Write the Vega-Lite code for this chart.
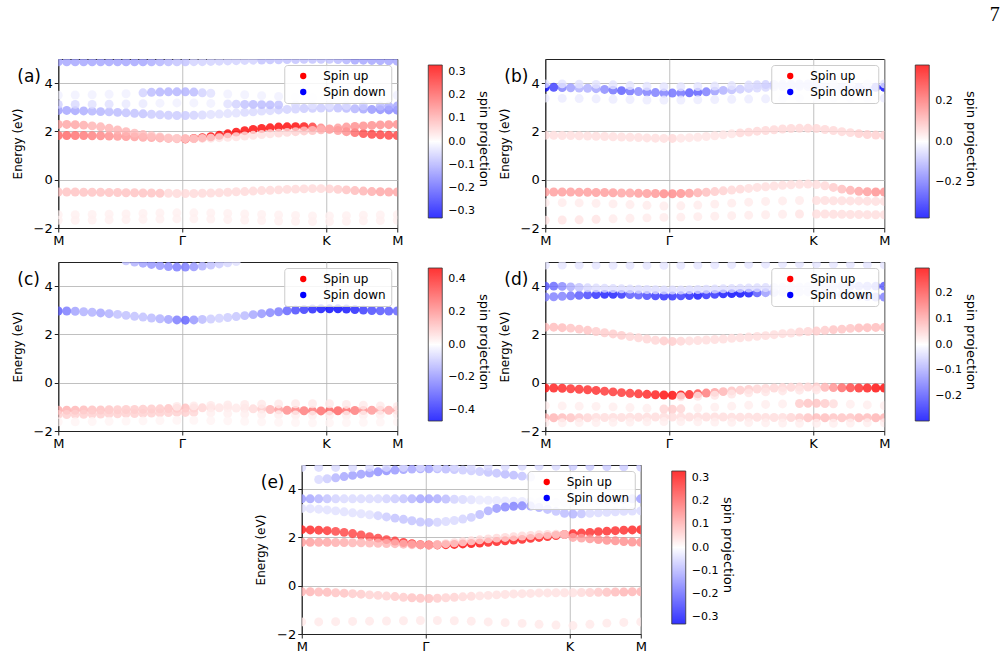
{
"$schema":"https://vega.github.io/schema/vega-lite/v6.json",
"padding":{"left":10,"top":4,"right":0,"bottom":0},
"background":"white",
"title":{"text":"7","anchor":"end","fontSize":20,"font":"Liberation Serif","fontWeight":"normal","offset":34,"dx":16,"color":"black"},
"config":{"font":"DejaVu Sans","view":{"stroke":"#222222","strokeWidth":1},
"axis":{"domainColor":"#222222","tickColor":"#222222","labelColor":"black","titleColor":"black","gridColor":"#b0b0b0","gridWidth":0.8,"labelFontSize":13,"titleFontSize":12,"titleFontWeight":"normal","tickSize":4,"labelPadding":2},
"axisY":{"titlePadding":9},
"legend":{"labelColor":"black","titleColor":"black"}},
"datasets":{
"a":[
{"k":0,"e":1.83,"s":0.2},{"k":2.5,"e":1.83,"s":0.2},{"k":5,"e":1.83,"s":0.19},{"k":7.5,"e":1.83,"s":0.18},{"k":10,"e":1.82,"s":0.17},{"k":12.5,"e":1.82,"s":0.16},{"k":15,"e":1.81,"s":0.15},{"k":17.5,"e":1.8,"s":0.14},{"k":20,"e":1.79,"s":0.14},{"k":22.5,"e":1.78,"s":0.13},{"k":25,"e":1.76,"s":0.12},{"k":27.5,"e":1.75,"s":0.12},{"k":30,"e":1.73,"s":0.12},{"k":32.5,"e":1.71,"s":0.12},{"k":35,"e":1.7,"s":0.14},{"k":37.5,"e":1.69,"s":0.3},{"k":40,"e":1.71,"s":0.33},{"k":42.5,"e":1.74,"s":0.33},{"k":45,"e":1.78,"s":0.33},{"k":47.5,"e":1.84,"s":0.33},{"k":50,"e":1.9,"s":0.33},{"k":52.5,"e":1.97,"s":0.33},{"k":55,"e":2.03,"s":0.33},{"k":57.5,"e":2.08,"s":0.33},{"k":60,"e":2.12,"s":0.33},{"k":62.5,"e":2.15,"s":0.33},{"k":65,"e":2.18,"s":0.33},{"k":67.5,"e":2.19,"s":0.33},{"k":70,"e":2.2,"s":0.33},{"k":72.5,"e":2.2,"s":0.31},{"k":75,"e":2.18,"s":0.26},{"k":77.5,"e":2.14,"s":0.16},{"k":80,"e":2.09,"s":0.12},{"k":82.5,"e":2.04,"s":0.13},{"k":85,"e":1.99,"s":0.15},{"k":87.5,"e":1.95,"s":0.2},{"k":90,"e":1.91,"s":0.24},{"k":92.5,"e":1.88,"s":0.25},{"k":95,"e":1.86,"s":0.25},{"k":97.5,"e":1.84,"s":0.25},{"k":100,"e":1.83,"s":0.25},
{"k":0,"e":2.29,"s":0.12},{"k":2.5,"e":2.29,"s":0.12},{"k":5,"e":2.28,"s":0.12},{"k":7.5,"e":2.26,"s":0.11},{"k":10,"e":2.23,"s":0.1},{"k":12.5,"e":2.19,"s":0.1},{"k":15,"e":2.13,"s":0.1},{"k":17.5,"e":2.06,"s":0.1},{"k":20,"e":1.99,"s":0.1},{"k":22.5,"e":1.93,"s":0.09},{"k":25,"e":1.87,"s":0.09},{"k":27.5,"e":1.82,"s":0.08},{"k":30,"e":1.77,"s":0.08},{"k":32.5,"e":1.73,"s":0.07},{"k":35,"e":1.71,"s":0.06},{"k":37.5,"e":1.7,"s":0.05},{"k":40,"e":1.7,"s":0.04},{"k":42.5,"e":1.71,"s":0.04},{"k":45,"e":1.72,"s":0.04},{"k":47.5,"e":1.74,"s":0.04},{"k":50,"e":1.76,"s":0.04},{"k":52.5,"e":1.78,"s":0.04},{"k":55,"e":1.81,"s":0.04},{"k":57.5,"e":1.84,"s":0.04},{"k":60,"e":1.87,"s":0.04},{"k":62.5,"e":1.9,"s":0.04},{"k":65,"e":1.93,"s":0.05},{"k":67.5,"e":1.96,"s":0.05},{"k":70,"e":1.99,"s":0.06},{"k":72.5,"e":2.02,"s":0.07},{"k":75,"e":2.04,"s":0.08},{"k":77.5,"e":2.07,"s":0.1},{"k":80,"e":2.1,"s":0.12},{"k":82.5,"e":2.14,"s":0.13},{"k":85,"e":2.18,"s":0.14},{"k":87.5,"e":2.21,"s":0.15},{"k":90,"e":2.23,"s":0.15},{"k":92.5,"e":2.25,"s":0.15},{"k":95,"e":2.27,"s":0.15},{"k":97.5,"e":2.28,"s":0.15},{"k":100,"e":2.29,"s":0.15},
{"k":0,"e":-0.51,"s":0.08},{"k":2.5,"e":-0.51,"s":0.08},{"k":5,"e":-0.51,"s":0.08},{"k":7.5,"e":-0.52,"s":0.08},{"k":10,"e":-0.52,"s":0.08},{"k":12.5,"e":-0.52,"s":0.08},{"k":15,"e":-0.53,"s":0.08},{"k":17.5,"e":-0.53,"s":0.08},{"k":20,"e":-0.54,"s":0.08},{"k":22.5,"e":-0.54,"s":0.08},{"k":25,"e":-0.55,"s":0.08},{"k":27.5,"e":-0.55,"s":0.08},{"k":30,"e":-0.56,"s":0.08},{"k":32.5,"e":-0.56,"s":0.05},{"k":35,"e":-0.57,"s":0.05},{"k":37.5,"e":-0.57,"s":0.05},{"k":40,"e":-0.57,"s":0.05},{"k":42.5,"e":-0.56,"s":0.05},{"k":45,"e":-0.55,"s":0.05},{"k":47.5,"e":-0.54,"s":0.05},{"k":50,"e":-0.52,"s":0.05},{"k":52.5,"e":-0.5,"s":0.05},{"k":55,"e":-0.49,"s":0.05},{"k":57.5,"e":-0.47,"s":0.05},{"k":60,"e":-0.45,"s":0.05},{"k":62.5,"e":-0.44,"s":0.05},{"k":65,"e":-0.42,"s":0.05},{"k":67.5,"e":-0.4,"s":0.05},{"k":70,"e":-0.39,"s":0.05},{"k":72.5,"e":-0.38,"s":0.05},{"k":75,"e":-0.37,"s":0.05},{"k":77.5,"e":-0.37,"s":0.05},{"k":80,"e":-0.38,"s":0.06},{"k":82.5,"e":-0.4,"s":0.07},{"k":85,"e":-0.42,"s":0.08},{"k":87.5,"e":-0.45,"s":0.09},{"k":90,"e":-0.47,"s":0.1},{"k":92.5,"e":-0.49,"s":0.11},{"k":95,"e":-0.5,"s":0.12},{"k":97.5,"e":-0.51,"s":0.12},{"k":100,"e":-0.51,"s":0.12},
{"k":0,"e":-1.45,"s":0.02},{"k":5,"e":-1.45,"s":0.02},{"k":10,"e":-1.44,"s":0.02},{"k":15,"e":-1.43,"s":0.02},{"k":20,"e":-1.42,"s":0.02},{"k":25,"e":-1.4,"s":0.02},{"k":30,"e":-1.38,"s":0.02},{"k":35,"e":-1.37,"s":0.02},{"k":40,"e":-1.37,"s":0.02},{"k":45,"e":-1.38,"s":0.02},{"k":50,"e":-1.4,"s":0.02},{"k":55,"e":-1.42,"s":0.02},{"k":60,"e":-1.44,"s":0.02},{"k":65,"e":-1.46,"s":0.02},{"k":70,"e":-1.48,"s":0.02},{"k":75,"e":-1.5,"s":0.02},{"k":80,"e":-1.5,"s":0.02},{"k":85,"e":-1.49,"s":0.02},{"k":90,"e":-1.47,"s":0.02},{"k":95,"e":-1.46,"s":0.02},{"k":100,"e":-1.45,"s":0.02},
{"k":0,"e":-1.68,"s":0.02},{"k":5,"e":-1.68,"s":0.02},{"k":10,"e":-1.67,"s":0.02},{"k":15,"e":-1.66,"s":0.02},{"k":20,"e":-1.65,"s":0.02},{"k":25,"e":-1.64,"s":0.02},{"k":30,"e":-1.63,"s":0.02},{"k":35,"e":-1.62,"s":0.02},{"k":40,"e":-1.62,"s":0.02},{"k":45,"e":-1.63,"s":0.02},{"k":50,"e":-1.65,"s":0.02},{"k":55,"e":-1.67,"s":0.02},{"k":60,"e":-1.69,"s":0.02},{"k":65,"e":-1.71,"s":0.02},{"k":70,"e":-1.72,"s":0.02},{"k":75,"e":-1.73,"s":0.02},{"k":80,"e":-1.73,"s":0.02},{"k":85,"e":-1.72,"s":0.02},{"k":90,"e":-1.7,"s":0.02},{"k":95,"e":-1.69,"s":0.02},{"k":100,"e":-1.68,"s":0.02},
{"k":0,"e":2.87,"s":-0.13},{"k":2.5,"e":2.87,"s":-0.12},{"k":5,"e":2.86,"s":-0.12},{"k":7.5,"e":2.85,"s":-0.11},{"k":10,"e":2.84,"s":-0.1},{"k":12.5,"e":2.82,"s":-0.1},{"k":15,"e":2.81,"s":-0.09},{"k":17.5,"e":2.79,"s":-0.09},{"k":20,"e":2.77,"s":-0.08},{"k":22.5,"e":2.75,"s":-0.08},{"k":25,"e":2.73,"s":-0.08},{"k":27.5,"e":2.71,"s":-0.07},{"k":30,"e":2.69,"s":-0.07},{"k":32.5,"e":2.67,"s":-0.07},{"k":35,"e":2.66,"s":-0.07},{"k":37.5,"e":2.66,"s":-0.07},{"k":40,"e":2.67,"s":-0.06},{"k":42.5,"e":2.68,"s":-0.05},{"k":45,"e":2.7,"s":-0.04},{"k":47.5,"e":2.72,"s":-0.04},{"k":50,"e":2.74,"s":-0.04},{"k":52.5,"e":2.76,"s":-0.04},{"k":55,"e":2.79,"s":-0.05},{"k":57.5,"e":2.81,"s":-0.05},{"k":60,"e":2.84,"s":-0.05},{"k":62.5,"e":2.86,"s":-0.05},{"k":65,"e":2.89,"s":-0.06},{"k":67.5,"e":2.91,"s":-0.06},{"k":70,"e":2.93,"s":-0.06},{"k":72.5,"e":2.95,"s":-0.07},{"k":75,"e":2.96,"s":-0.07},{"k":77.5,"e":2.97,"s":-0.07},{"k":80,"e":2.98,"s":-0.07},{"k":82.5,"e":2.97,"s":-0.08},{"k":85,"e":2.96,"s":-0.09},{"k":87.5,"e":2.94,"s":-0.1},{"k":90,"e":2.93,"s":-0.12},{"k":92.5,"e":2.91,"s":-0.14},{"k":95,"e":2.9,"s":-0.15},{"k":97.5,"e":2.89,"s":-0.16},{"k":100,"e":2.88,"s":-0.16},
{"k":0,"e":3.12,"s":-0.06},{"k":5,"e":3.12,"s":-0.05},{"k":10,"e":3.12,"s":-0.04},{"k":15,"e":3.13,"s":-0.04},{"k":20,"e":3.14,"s":-0.03},{"k":25,"e":3.15,"s":-0.03},{"k":30,"e":3.17,"s":-0.02},{"k":35,"e":3.18,"s":-0.02},{"k":40,"e":3.18,"s":-0.02},{"k":45,"e":3.16,"s":-0.02},{"k":50,"e":3.14,"s":-0.04},{"k":52.5,"e":3.13,"s":-0.06},{"k":55,"e":3.12,"s":-0.08},{"k":57.5,"e":3.12,"s":-0.09},{"k":60,"e":3.11,"s":-0.09},{"k":62.5,"e":3.1,"s":-0.09},{"k":65,"e":3.1,"s":-0.08},{"k":70,"e":3.1,"s":-0.05},{"k":75,"e":3.09,"s":-0.04},{"k":80,"e":3.08,"s":-0.04},{"k":85,"e":3.07,"s":-0.05},{"k":90,"e":3.06,"s":-0.07},{"k":95,"e":3.05,"s":-0.09},{"k":97.5,"e":3.05,"s":-0.11},{"k":100,"e":3.05,"s":-0.12},
{"k":0,"e":3.5,"s":-0.02},{"k":5,"e":3.51,"s":-0.02},{"k":10,"e":3.52,"s":-0.02},{"k":15,"e":3.54,"s":-0.02},{"k":20,"e":3.56,"s":-0.02},{"k":25,"e":3.6,"s":-0.06},{"k":27.5,"e":3.62,"s":-0.09},{"k":30,"e":3.63,"s":-0.1},{"k":32.5,"e":3.64,"s":-0.1},{"k":35,"e":3.64,"s":-0.1},{"k":37.5,"e":3.64,"s":-0.1},{"k":40,"e":3.63,"s":-0.09},{"k":42.5,"e":3.6,"s":-0.06},{"k":45,"e":3.58,"s":-0.04},{"k":50,"e":3.55,"s":-0.02},{"k":55,"e":3.52,"s":-0.02},{"k":60,"e":3.48,"s":-0.02},{"k":65,"e":3.45,"s":-0.02},{"k":70,"e":3.42,"s":-0.02},{"k":75,"e":3.4,"s":-0.02},{"k":80,"e":3.4,"s":-0.02},{"k":85,"e":3.42,"s":-0.02},{"k":90,"e":3.45,"s":-0.02},{"k":95,"e":3.48,"s":-0.02},{"k":100,"e":3.5,"s":-0.02},
{"k":0,"e":4.88,"s":-0.12},{"k":2.5,"e":4.88,"s":-0.12},{"k":5,"e":4.88,"s":-0.12},{"k":7.5,"e":4.88,"s":-0.12},{"k":10,"e":4.88,"s":-0.12},{"k":12.5,"e":4.88,"s":-0.12},{"k":15,"e":4.88,"s":-0.12},{"k":17.5,"e":4.88,"s":-0.12},{"k":20,"e":4.88,"s":-0.12},{"k":22.5,"e":4.88,"s":-0.12},{"k":25,"e":4.88,"s":-0.12},{"k":27.5,"e":4.88,"s":-0.11},{"k":30,"e":4.88,"s":-0.1},{"k":32.5,"e":4.88,"s":-0.09},{"k":35,"e":4.88,"s":-0.08},{"k":37.5,"e":4.88,"s":-0.08},{"k":40,"e":4.89,"s":-0.06},{"k":42.5,"e":4.89,"s":-0.06},{"k":45,"e":4.9,"s":-0.06},{"k":47.5,"e":4.91,"s":-0.06},{"k":50,"e":4.92,"s":-0.06},{"k":52.5,"e":4.93,"s":-0.06},{"k":55,"e":4.94,"s":-0.06},{"k":57.5,"e":4.95,"s":-0.06},{"k":60,"e":4.96,"s":-0.08},{"k":62.5,"e":4.97,"s":-0.08},{"k":65,"e":4.97,"s":-0.08},{"k":67.5,"e":4.98,"s":-0.08},{"k":70,"e":4.98,"s":-0.08},{"k":72.5,"e":4.99,"s":-0.08},{"k":75,"e":4.99,"s":-0.08},{"k":77.5,"e":4.99,"s":-0.08},{"k":80,"e":4.99,"s":-0.08},{"k":82.5,"e":4.98,"s":-0.09},{"k":85,"e":4.97,"s":-0.1},{"k":87.5,"e":4.96,"s":-0.12},{"k":90,"e":4.95,"s":-0.12},{"k":92.5,"e":4.94,"s":-0.12},{"k":95,"e":4.93,"s":-0.12},{"k":97.5,"e":4.92,"s":-0.12},{"k":100,"e":4.91,"s":-0.12}
],
"b":[
{"k":0,"e":3.83,"s":-0.38},{"k":2.5,"e":3.83,"s":-0.3},{"k":5,"e":3.82,"s":-0.2},{"k":7.5,"e":3.81,"s":-0.15},{"k":10,"e":3.8,"s":-0.12},{"k":12.5,"e":3.79,"s":-0.12},{"k":15,"e":3.77,"s":-0.14},{"k":17.5,"e":3.74,"s":-0.18},{"k":20,"e":3.71,"s":-0.22},{"k":22.5,"e":3.69,"s":-0.25},{"k":25,"e":3.67,"s":-0.22},{"k":27.5,"e":3.65,"s":-0.18},{"k":30,"e":3.63,"s":-0.2},{"k":32.5,"e":3.61,"s":-0.2},{"k":35,"e":3.59,"s":-0.2},{"k":37.5,"e":3.59,"s":-0.22},{"k":40,"e":3.59,"s":-0.22},{"k":42.5,"e":3.6,"s":-0.25},{"k":45,"e":3.62,"s":-0.25},{"k":47.5,"e":3.64,"s":-0.2},{"k":50,"e":3.67,"s":-0.15},{"k":52.5,"e":3.7,"s":-0.12},{"k":55,"e":3.72,"s":-0.1},{"k":57.5,"e":3.75,"s":-0.08},{"k":60,"e":3.78,"s":-0.07},{"k":62.5,"e":3.8,"s":-0.06},{"k":65,"e":3.83,"s":-0.06},{"k":67.5,"e":3.85,"s":-0.07},{"k":70,"e":3.86,"s":-0.08},{"k":72.5,"e":3.87,"s":-0.08},{"k":75,"e":3.87,"s":-0.08},{"k":77.5,"e":3.86,"s":-0.08},{"k":80,"e":3.85,"s":-0.08},{"k":82.5,"e":3.84,"s":-0.07},{"k":85,"e":3.84,"s":-0.07},{"k":87.5,"e":3.83,"s":-0.08},{"k":90,"e":3.83,"s":-0.1},{"k":92.5,"e":3.83,"s":-0.12},{"k":95,"e":3.83,"s":-0.15},{"k":97.5,"e":3.83,"s":-0.3},{"k":100,"e":3.83,"s":-0.38},
{"k":0,"e":3.97,"s":-0.04},{"k":5,"e":3.97,"s":-0.04},{"k":10,"e":3.96,"s":-0.04},{"k":15,"e":3.95,"s":-0.04},{"k":20,"e":3.93,"s":-0.04},{"k":25,"e":3.9,"s":-0.04},{"k":30,"e":3.87,"s":-0.04},{"k":35,"e":3.85,"s":-0.04},{"k":40,"e":3.85,"s":-0.04},{"k":45,"e":3.86,"s":-0.04},{"k":50,"e":3.88,"s":-0.04},{"k":55,"e":3.9,"s":-0.04},{"k":60,"e":3.92,"s":-0.05},{"k":62.5,"e":3.93,"s":-0.06},{"k":65,"e":3.94,"s":-0.07},{"k":67.5,"e":3.95,"s":-0.08},{"k":70,"e":3.96,"s":-0.08},{"k":72.5,"e":3.96,"s":-0.08},{"k":75,"e":3.97,"s":-0.08},{"k":77.5,"e":3.97,"s":-0.08},{"k":80,"e":3.97,"s":-0.07},{"k":85,"e":3.97,"s":-0.04},{"k":90,"e":3.97,"s":-0.04},{"k":95,"e":3.97,"s":-0.04},{"k":100,"e":3.97,"s":-0.04},
{"k":0,"e":3.38,"s":-0.03},{"k":5,"e":3.37,"s":-0.03},{"k":10,"e":3.36,"s":-0.03},{"k":15,"e":3.35,"s":-0.03},{"k":20,"e":3.33,"s":-0.03},{"k":25,"e":3.32,"s":-0.03},{"k":30,"e":3.3,"s":-0.03},{"k":35,"e":3.3,"s":-0.03},{"k":40,"e":3.3,"s":-0.03},{"k":45,"e":3.31,"s":-0.03},{"k":50,"e":3.32,"s":-0.03},{"k":55,"e":3.33,"s":-0.03},{"k":60,"e":3.34,"s":-0.03},{"k":65,"e":3.35,"s":-0.03},{"k":70,"e":3.36,"s":-0.03},{"k":75,"e":3.37,"s":-0.03},{"k":80,"e":3.38,"s":-0.03},{"k":85,"e":3.38,"s":-0.03},{"k":90,"e":3.37,"s":-0.03},{"k":95,"e":3.37,"s":-0.03},{"k":100,"e":3.38,"s":-0.03},
{"k":0,"e":1.84,"s":0.05},{"k":2.5,"e":1.84,"s":0.05},{"k":5,"e":1.83,"s":0.05},{"k":7.5,"e":1.83,"s":0.05},{"k":10,"e":1.82,"s":0.05},{"k":12.5,"e":1.81,"s":0.05},{"k":15,"e":1.8,"s":0.05},{"k":17.5,"e":1.79,"s":0.05},{"k":20,"e":1.78,"s":0.05},{"k":22.5,"e":1.77,"s":0.05},{"k":25,"e":1.76,"s":0.05},{"k":27.5,"e":1.75,"s":0.05},{"k":30,"e":1.73,"s":0.05},{"k":32.5,"e":1.72,"s":0.05},{"k":35,"e":1.71,"s":0.05},{"k":37.5,"e":1.71,"s":0.06},{"k":40,"e":1.72,"s":0.04},{"k":42.5,"e":1.74,"s":0.04},{"k":45,"e":1.76,"s":0.04},{"k":47.5,"e":1.79,"s":0.04},{"k":50,"e":1.82,"s":0.04},{"k":52.5,"e":1.86,"s":0.04},{"k":55,"e":1.9,"s":0.04},{"k":57.5,"e":1.94,"s":0.06},{"k":60,"e":1.97,"s":0.06},{"k":62.5,"e":2.01,"s":0.06},{"k":65,"e":2.04,"s":0.06},{"k":67.5,"e":2.07,"s":0.06},{"k":70,"e":2.1,"s":0.06},{"k":72.5,"e":2.12,"s":0.06},{"k":75,"e":2.13,"s":0.06},{"k":77.5,"e":2.13,"s":0.06},{"k":80,"e":2.12,"s":0.06},{"k":82.5,"e":2.08,"s":0.06},{"k":85,"e":2.04,"s":0.06},{"k":87.5,"e":1.99,"s":0.06},{"k":90,"e":1.95,"s":0.06},{"k":92.5,"e":1.91,"s":0.07},{"k":95,"e":1.87,"s":0.07},{"k":97.5,"e":1.85,"s":0.07},{"k":100,"e":1.84,"s":0.07},
{"k":0,"e":-0.51,"s":0.15},{"k":2.5,"e":-0.51,"s":0.15},{"k":5,"e":-0.51,"s":0.15},{"k":7.5,"e":-0.51,"s":0.15},{"k":10,"e":-0.52,"s":0.15},{"k":12.5,"e":-0.52,"s":0.15},{"k":15,"e":-0.53,"s":0.15},{"k":17.5,"e":-0.53,"s":0.15},{"k":20,"e":-0.54,"s":0.15},{"k":22.5,"e":-0.55,"s":0.14},{"k":25,"e":-0.55,"s":0.14},{"k":27.5,"e":-0.56,"s":0.15},{"k":30,"e":-0.57,"s":0.15},{"k":32.5,"e":-0.57,"s":0.16},{"k":35,"e":-0.58,"s":0.18},{"k":37.5,"e":-0.58,"s":0.18},{"k":40,"e":-0.57,"s":0.17},{"k":42.5,"e":-0.56,"s":0.15},{"k":45,"e":-0.54,"s":0.12},{"k":47.5,"e":-0.52,"s":0.1},{"k":50,"e":-0.49,"s":0.08},{"k":52.5,"e":-0.46,"s":0.07},{"k":55,"e":-0.43,"s":0.06},{"k":57.5,"e":-0.39,"s":0.06},{"k":60,"e":-0.36,"s":0.05},{"k":62.5,"e":-0.32,"s":0.05},{"k":65,"e":-0.29,"s":0.05},{"k":67.5,"e":-0.26,"s":0.05},{"k":70,"e":-0.23,"s":0.05},{"k":72.5,"e":-0.21,"s":0.05},{"k":75,"e":-0.19,"s":0.05},{"k":77.5,"e":-0.18,"s":0.05},{"k":80,"e":-0.2,"s":0.05},{"k":82.5,"e":-0.25,"s":0.06},{"k":85,"e":-0.32,"s":0.08},{"k":87.5,"e":-0.39,"s":0.1},{"k":90,"e":-0.44,"s":0.12},{"k":92.5,"e":-0.48,"s":0.14},{"k":95,"e":-0.5,"s":0.15},{"k":97.5,"e":-0.51,"s":0.17},{"k":100,"e":-0.51,"s":0.17},
{"k":0,"e":-0.95,"s":0.03},{"k":5,"e":-0.95,"s":0.03},{"k":10,"e":-0.96,"s":0.03},{"k":15,"e":-0.98,"s":0.03},{"k":20,"e":-1.0,"s":0.03},{"k":25,"e":-1.03,"s":0.03},{"k":30,"e":-1.06,"s":0.03},{"k":35,"e":-1.09,"s":0.03},{"k":40,"e":-1.08,"s":0.03},{"k":45,"e":-1.05,"s":0.03},{"k":50,"e":-1.01,"s":0.03},{"k":55,"e":-0.97,"s":0.03},{"k":60,"e":-0.93,"s":0.03},{"k":65,"e":-0.9,"s":0.03},{"k":70,"e":-0.88,"s":0.03},{"k":75,"e":-0.86,"s":0.03},{"k":80,"e":-0.86,"s":0.05},{"k":82.5,"e":-0.86,"s":0.05},{"k":85,"e":-0.87,"s":0.05},{"k":87.5,"e":-0.87,"s":0.05},{"k":90,"e":-0.88,"s":0.05},{"k":92.5,"e":-0.88,"s":0.05},{"k":95,"e":-0.89,"s":0.05},{"k":97.5,"e":-0.9,"s":0.05},{"k":100,"e":-0.9,"s":0.05},
{"k":0,"e":-1.68,"s":0.04},{"k":5,"e":-1.67,"s":0.04},{"k":10,"e":-1.66,"s":0.04},{"k":15,"e":-1.64,"s":0.04},{"k":20,"e":-1.62,"s":0.03},{"k":25,"e":-1.6,"s":0.03},{"k":30,"e":-1.58,"s":0.03},{"k":35,"e":-1.56,"s":0.03},{"k":40,"e":-1.55,"s":0.03},{"k":45,"e":-1.53,"s":0.03},{"k":50,"e":-1.51,"s":0.03},{"k":55,"e":-1.49,"s":0.03},{"k":60,"e":-1.47,"s":0.03},{"k":65,"e":-1.45,"s":0.03},{"k":70,"e":-1.43,"s":0.03},{"k":75,"e":-1.42,"s":0.04},{"k":80,"e":-1.42,"s":0.05},{"k":82.5,"e":-1.42,"s":0.05},{"k":85,"e":-1.43,"s":0.05},{"k":87.5,"e":-1.43,"s":0.05},{"k":90,"e":-1.44,"s":0.05},{"k":92.5,"e":-1.44,"s":0.05},{"k":95,"e":-1.45,"s":0.05},{"k":97.5,"e":-1.45,"s":0.05},{"k":100,"e":-1.45,"s":0.05}
],
"c":[
{"k":0,"e":2.97,"s":-0.3},{"k":2.5,"e":2.97,"s":-0.25},{"k":5,"e":2.96,"s":-0.18},{"k":7.5,"e":2.94,"s":-0.15},{"k":10,"e":2.92,"s":-0.15},{"k":12.5,"e":2.89,"s":-0.17},{"k":15,"e":2.86,"s":-0.15},{"k":17.5,"e":2.83,"s":-0.12},{"k":20,"e":2.79,"s":-0.12},{"k":22.5,"e":2.75,"s":-0.12},{"k":25,"e":2.72,"s":-0.12},{"k":27.5,"e":2.68,"s":-0.13},{"k":30,"e":2.65,"s":-0.15},{"k":32.5,"e":2.62,"s":-0.18},{"k":35,"e":2.6,"s":-0.25},{"k":37.5,"e":2.59,"s":-0.3},{"k":40,"e":2.6,"s":-0.2},{"k":42.5,"e":2.62,"s":-0.13},{"k":45,"e":2.64,"s":-0.1},{"k":47.5,"e":2.67,"s":-0.09},{"k":50,"e":2.7,"s":-0.1},{"k":52.5,"e":2.74,"s":-0.11},{"k":55,"e":2.78,"s":-0.13},{"k":57.5,"e":2.82,"s":-0.17},{"k":60,"e":2.86,"s":-0.2},{"k":62.5,"e":2.9,"s":-0.23},{"k":65,"e":2.94,"s":-0.25},{"k":67.5,"e":2.98,"s":-0.3},{"k":70,"e":3.01,"s":-0.35},{"k":72.5,"e":3.03,"s":-0.38},{"k":75,"e":3.05,"s":-0.42},{"k":77.5,"e":3.06,"s":-0.45},{"k":80,"e":3.06,"s":-0.47},{"k":82.5,"e":3.06,"s":-0.47},{"k":85,"e":3.05,"s":-0.45},{"k":87.5,"e":3.03,"s":-0.42},{"k":90,"e":3.01,"s":-0.38},{"k":92.5,"e":2.99,"s":-0.35},{"k":95,"e":2.98,"s":-0.33},{"k":97.5,"e":2.97,"s":-0.32},{"k":100,"e":2.97,"s":-0.3},
{"k":20,"e":5.05,"s":-0.12},{"k":22.5,"e":5.0,"s":-0.15},{"k":25,"e":4.95,"s":-0.18},{"k":27.5,"e":4.9,"s":-0.2},{"k":30,"e":4.85,"s":-0.2},{"k":32.5,"e":4.81,"s":-0.22},{"k":35,"e":4.79,"s":-0.25},{"k":37.5,"e":4.79,"s":-0.25},{"k":40,"e":4.8,"s":-0.2},{"k":42.5,"e":4.83,"s":-0.15},{"k":45,"e":4.87,"s":-0.12},{"k":47.5,"e":4.92,"s":-0.1},{"k":50,"e":4.97,"s":-0.08},{"k":52.5,"e":5.02,"s":-0.06},
{"k":0,"e":-1.14,"s":0.16},{"k":2.5,"e":-1.14,"s":0.15},{"k":5,"e":-1.14,"s":0.14},{"k":7.5,"e":-1.13,"s":0.13},{"k":10,"e":-1.13,"s":0.12},{"k":12.5,"e":-1.13,"s":0.12},{"k":15,"e":-1.12,"s":0.11},{"k":17.5,"e":-1.12,"s":0.1},{"k":20,"e":-1.11,"s":0.1},{"k":22.5,"e":-1.11,"s":0.1},{"k":25,"e":-1.1,"s":0.1},{"k":27.5,"e":-1.09,"s":0.1},{"k":30,"e":-1.08,"s":0.1},{"k":32.5,"e":-1.07,"s":0.11},{"k":35,"e":-1.06,"s":0.12},{"k":37.5,"e":-1.05,"s":0.12},{"k":40,"e":-1.05,"s":0.1},{"k":42.5,"e":-1.04,"s":0.08},{"k":45,"e":-1.04,"s":0.07},{"k":47.5,"e":-1.04,"s":0.05},{"k":50,"e":-1.04,"s":0.04},{"k":52.5,"e":-1.05,"s":0.04},{"k":55,"e":-1.06,"s":0.05},{"k":57.5,"e":-1.08,"s":0.07},{"k":60,"e":-1.09,"s":0.1},{"k":62.5,"e":-1.11,"s":0.15},{"k":65,"e":-1.12,"s":0.19},{"k":67.5,"e":-1.14,"s":0.22},{"k":70,"e":-1.15,"s":0.24},{"k":72.5,"e":-1.16,"s":0.25},{"k":75,"e":-1.17,"s":0.26},{"k":77.5,"e":-1.17,"s":0.28},{"k":80,"e":-1.17,"s":0.3},{"k":82.5,"e":-1.16,"s":0.3},{"k":85,"e":-1.16,"s":0.28},{"k":87.5,"e":-1.15,"s":0.25},{"k":90,"e":-1.15,"s":0.22},{"k":92.5,"e":-1.14,"s":0.2},{"k":95,"e":-1.14,"s":0.18},{"k":97.5,"e":-1.14,"s":0.16},{"k":100,"e":-1.14,"s":0.16},
{"k":0,"e":-1.32,"s":0.09},{"k":2.5,"e":-1.32,"s":0.09},{"k":5,"e":-1.31,"s":0.09},{"k":7.5,"e":-1.31,"s":0.09},{"k":10,"e":-1.3,"s":0.09},{"k":12.5,"e":-1.3,"s":0.09},{"k":15,"e":-1.29,"s":0.09},{"k":17.5,"e":-1.29,"s":0.09},{"k":20,"e":-1.28,"s":0.09},{"k":22.5,"e":-1.28,"s":0.09},{"k":25,"e":-1.27,"s":0.09},{"k":27.5,"e":-1.26,"s":0.09},{"k":30,"e":-1.25,"s":0.09},{"k":32.5,"e":-1.24,"s":0.09},{"k":35,"e":-1.23,"s":0.09},{"k":37.5,"e":-1.23,"s":0.09},{"k":40,"e":-1.23,"s":0.08},{"k":45,"e":-1.25,"s":0.03},{"k":50,"e":-1.28,"s":0.03},{"k":55,"e":-1.3,"s":0.03},{"k":60,"e":-1.32,"s":0.03},{"k":65,"e":-1.33,"s":0.03},{"k":70,"e":-1.34,"s":0.03},{"k":75,"e":-1.35,"s":0.03},{"k":80,"e":-1.35,"s":0.03},{"k":85,"e":-1.35,"s":0.03},{"k":90,"e":-1.34,"s":0.03},{"k":95,"e":-1.33,"s":0.03},{"k":100,"e":-1.32,"s":0.03},
{"k":35,"e":-0.98,"s":0.04},{"k":40,"e":-0.96,"s":0.04},{"k":45,"e":-0.94,"s":0.04},{"k":50,"e":-0.92,"s":0.04},{"k":55,"e":-0.9,"s":0.04},{"k":60,"e":-0.89,"s":0.04},{"k":65,"e":-0.88,"s":0.04},{"k":70,"e":-0.87,"s":0.04},{"k":75,"e":-0.87,"s":0.04},{"k":80,"e":-0.87,"s":0.04},{"k":85,"e":-0.9,"s":0.04},{"k":90,"e":-0.93,"s":0.04},{"k":95,"e":-0.96,"s":0.04},{"k":100,"e":-0.98,"s":0.04},
{"k":0,"e":-1.62,"s":0.02},{"k":5,"e":-1.62,"s":0.02},{"k":10,"e":-1.61,"s":0.02},{"k":15,"e":-1.6,"s":0.02},{"k":20,"e":-1.59,"s":0.02},{"k":25,"e":-1.58,"s":0.02},{"k":30,"e":-1.57,"s":0.02},{"k":35,"e":-1.56,"s":0.02},{"k":40,"e":-1.56,"s":0.02},{"k":45,"e":-1.57,"s":0.02},{"k":50,"e":-1.58,"s":0.02},{"k":55,"e":-1.6,"s":0.02},{"k":60,"e":-1.62,"s":0.02},{"k":65,"e":-1.64,"s":0.02},{"k":70,"e":-1.65,"s":0.02},{"k":75,"e":-1.66,"s":0.02},{"k":80,"e":-1.66,"s":0.02},{"k":85,"e":-1.65,"s":0.02},{"k":90,"e":-1.64,"s":0.02},{"k":95,"e":-1.63,"s":0.02},{"k":100,"e":-1.62,"s":0.02}
],
"d":[
{"k":0,"e":-0.22,"s":0.28},{"k":2.5,"e":-0.22,"s":0.27},{"k":5,"e":-0.23,"s":0.26},{"k":7.5,"e":-0.25,"s":0.25},{"k":10,"e":-0.27,"s":0.25},{"k":12.5,"e":-0.29,"s":0.25},{"k":15,"e":-0.32,"s":0.25},{"k":17.5,"e":-0.35,"s":0.24},{"k":20,"e":-0.38,"s":0.24},{"k":22.5,"e":-0.41,"s":0.24},{"k":25,"e":-0.44,"s":0.24},{"k":27.5,"e":-0.46,"s":0.25},{"k":30,"e":-0.48,"s":0.26},{"k":32.5,"e":-0.5,"s":0.27},{"k":35,"e":-0.51,"s":0.29},{"k":37.5,"e":-0.52,"s":0.3},{"k":40,"e":-0.51,"s":0.29},{"k":42.5,"e":-0.49,"s":0.26},{"k":45,"e":-0.46,"s":0.21},{"k":47.5,"e":-0.43,"s":0.16},{"k":50,"e":-0.4,"s":0.11},{"k":52.5,"e":-0.37,"s":0.09},{"k":55,"e":-0.34,"s":0.07},{"k":57.5,"e":-0.31,"s":0.06},{"k":60,"e":-0.28,"s":0.06},{"k":62.5,"e":-0.26,"s":0.05},{"k":65,"e":-0.24,"s":0.05},{"k":67.5,"e":-0.22,"s":0.05},{"k":70,"e":-0.2,"s":0.05},{"k":72.5,"e":-0.19,"s":0.05},{"k":75,"e":-0.18,"s":0.05},{"k":77.5,"e":-0.18,"s":0.05},{"k":80,"e":-0.18,"s":0.06},{"k":82.5,"e":-0.19,"s":0.09},{"k":85,"e":-0.2,"s":0.13},{"k":87.5,"e":-0.21,"s":0.18},{"k":90,"e":-0.21,"s":0.22},{"k":92.5,"e":-0.22,"s":0.25},{"k":95,"e":-0.22,"s":0.27},{"k":97.5,"e":-0.22,"s":0.29},{"k":100,"e":-0.22,"s":0.29},
{"k":40,"e":-0.58,"s":0.03},{"k":45,"e":-0.56,"s":0.03},{"k":50,"e":-0.52,"s":0.03},{"k":55,"e":-0.47,"s":0.03},{"k":60,"e":-0.42,"s":0.03},{"k":65,"e":-0.38,"s":0.03},{"k":70,"e":-0.34,"s":0.03},{"k":75,"e":-0.31,"s":0.03},{"k":80,"e":-0.3,"s":0.03},
{"k":0,"e":-0.95,"s":0.02},{"k":5,"e":-0.96,"s":0.02},{"k":10,"e":-0.97,"s":0.02},{"k":15,"e":-0.98,"s":0.02},{"k":20,"e":-1.0,"s":0.02},{"k":25,"e":-1.03,"s":0.02},{"k":30,"e":-1.06,"s":0.02},{"k":35,"e":-1.09,"s":0.05},{"k":37.5,"e":-1.1,"s":0.06},{"k":40,"e":-1.08,"s":0.05},{"k":45,"e":-1.05,"s":0.02},{"k":50,"e":-1.01,"s":0.02},{"k":55,"e":-0.97,"s":0.02},{"k":60,"e":-0.93,"s":0.02},{"k":65,"e":-0.9,"s":0.02},{"k":70,"e":-0.88,"s":0.02},{"k":75,"e":-0.86,"s":0.06},{"k":77.5,"e":-0.85,"s":0.07},{"k":80,"e":-0.85,"s":0.07},{"k":82.5,"e":-0.86,"s":0.06},{"k":85,"e":-0.87,"s":0.04},{"k":90,"e":-0.89,"s":0.02},{"k":95,"e":-0.92,"s":0.02},{"k":100,"e":-0.95,"s":0.02},
{"k":0,"e":-1.45,"s":0.09},{"k":2.5,"e":-1.45,"s":0.09},{"k":5,"e":-1.45,"s":0.08},{"k":7.5,"e":-1.45,"s":0.07},{"k":10,"e":-1.45,"s":0.06},{"k":12.5,"e":-1.45,"s":0.05},{"k":15,"e":-1.44,"s":0.04},{"k":17.5,"e":-1.44,"s":0.04},{"k":20,"e":-1.44,"s":0.04},{"k":22.5,"e":-1.44,"s":0.04},{"k":25,"e":-1.43,"s":0.04},{"k":27.5,"e":-1.43,"s":0.04},{"k":30,"e":-1.43,"s":0.04},{"k":32.5,"e":-1.42,"s":0.04},{"k":35,"e":-1.42,"s":0.04},{"k":37.5,"e":-1.42,"s":0.04},{"k":40,"e":-1.42,"s":0.04},{"k":42.5,"e":-1.42,"s":0.04},{"k":45,"e":-1.42,"s":0.04},{"k":47.5,"e":-1.42,"s":0.04},{"k":50,"e":-1.42,"s":0.04},{"k":52.5,"e":-1.42,"s":0.04},{"k":55,"e":-1.43,"s":0.04},{"k":57.5,"e":-1.43,"s":0.04},{"k":60,"e":-1.43,"s":0.04},{"k":62.5,"e":-1.43,"s":0.04},{"k":65,"e":-1.44,"s":0.04},{"k":67.5,"e":-1.44,"s":0.04},{"k":70,"e":-1.44,"s":0.04},{"k":72.5,"e":-1.44,"s":0.05},{"k":75,"e":-1.45,"s":0.06},{"k":77.5,"e":-1.45,"s":0.07},{"k":80,"e":-1.45,"s":0.08},{"k":82.5,"e":-1.45,"s":0.08},{"k":85,"e":-1.45,"s":0.07},{"k":87.5,"e":-1.45,"s":0.07},{"k":90,"e":-1.45,"s":0.07},{"k":92.5,"e":-1.45,"s":0.08},{"k":95,"e":-1.45,"s":0.08},{"k":97.5,"e":-1.45,"s":0.09},{"k":100,"e":-1.45,"s":0.09},
{"k":0,"e":-1.66,"s":0.02},{"k":5,"e":-1.66,"s":0.02},{"k":10,"e":-1.65,"s":0.02},{"k":15,"e":-1.65,"s":0.02},{"k":20,"e":-1.64,"s":0.02},{"k":25,"e":-1.63,"s":0.02},{"k":30,"e":-1.62,"s":0.02},{"k":35,"e":-1.61,"s":0.02},{"k":40,"e":-1.61,"s":0.02},{"k":45,"e":-1.62,"s":0.02},{"k":50,"e":-1.63,"s":0.02},{"k":55,"e":-1.64,"s":0.02},{"k":60,"e":-1.65,"s":0.02},{"k":65,"e":-1.66,"s":0.02},{"k":70,"e":-1.67,"s":0.02},{"k":75,"e":-1.68,"s":0.02},{"k":80,"e":-1.68,"s":0.02},{"k":85,"e":-1.68,"s":0.02},{"k":90,"e":-1.67,"s":0.02},{"k":95,"e":-1.66,"s":0.02},{"k":100,"e":-1.66,"s":0.02},
{"k":0,"e":2.3,"s":0.08},{"k":2.5,"e":2.3,"s":0.08},{"k":5,"e":2.28,"s":0.08},{"k":7.5,"e":2.26,"s":0.07},{"k":10,"e":2.22,"s":0.07},{"k":12.5,"e":2.17,"s":0.07},{"k":15,"e":2.12,"s":0.06},{"k":17.5,"e":2.07,"s":0.06},{"k":20,"e":2.02,"s":0.06},{"k":22.5,"e":1.96,"s":0.06},{"k":25,"e":1.91,"s":0.05},{"k":27.5,"e":1.86,"s":0.05},{"k":30,"e":1.81,"s":0.05},{"k":32.5,"e":1.76,"s":0.05},{"k":35,"e":1.73,"s":0.06},{"k":37.5,"e":1.71,"s":0.06},{"k":40,"e":1.72,"s":0.05},{"k":42.5,"e":1.73,"s":0.04},{"k":45,"e":1.75,"s":0.04},{"k":47.5,"e":1.77,"s":0.04},{"k":50,"e":1.79,"s":0.04},{"k":52.5,"e":1.81,"s":0.04},{"k":55,"e":1.84,"s":0.04},{"k":57.5,"e":1.86,"s":0.04},{"k":60,"e":1.89,"s":0.04},{"k":62.5,"e":1.92,"s":0.04},{"k":65,"e":1.95,"s":0.04},{"k":67.5,"e":1.99,"s":0.04},{"k":70,"e":2.03,"s":0.04},{"k":72.5,"e":2.06,"s":0.04},{"k":75,"e":2.1,"s":0.05},{"k":77.5,"e":2.12,"s":0.05},{"k":80,"e":2.14,"s":0.06},{"k":82.5,"e":2.17,"s":0.06},{"k":85,"e":2.2,"s":0.07},{"k":87.5,"e":2.22,"s":0.07},{"k":90,"e":2.25,"s":0.07},{"k":92.5,"e":2.27,"s":0.08},{"k":95,"e":2.28,"s":0.08},{"k":97.5,"e":2.29,"s":0.08},{"k":100,"e":2.3,"s":0.08},
{"k":0,"e":3.55,"s":-0.15},{"k":2.5,"e":3.56,"s":-0.15},{"k":5,"e":3.58,"s":-0.15},{"k":7.5,"e":3.6,"s":-0.17},{"k":10,"e":3.62,"s":-0.2},{"k":12.5,"e":3.64,"s":-0.22},{"k":15,"e":3.65,"s":-0.25},{"k":17.5,"e":3.66,"s":-0.27},{"k":20,"e":3.66,"s":-0.27},{"k":22.5,"e":3.66,"s":-0.25},{"k":25,"e":3.65,"s":-0.2},{"k":27.5,"e":3.63,"s":-0.2},{"k":30,"e":3.61,"s":-0.22},{"k":32.5,"e":3.6,"s":-0.24},{"k":35,"e":3.59,"s":-0.25},{"k":37.5,"e":3.59,"s":-0.25},{"k":40,"e":3.6,"s":-0.24},{"k":42.5,"e":3.61,"s":-0.26},{"k":45,"e":3.62,"s":-0.28},{"k":47.5,"e":3.64,"s":-0.25},{"k":50,"e":3.66,"s":-0.25},{"k":52.5,"e":3.68,"s":-0.28},{"k":55,"e":3.69,"s":-0.3},{"k":57.5,"e":3.7,"s":-0.3},{"k":60,"e":3.71,"s":-0.28},{"k":62.5,"e":3.72,"s":-0.2},{"k":65,"e":3.73,"s":-0.12},{"k":67.5,"e":3.74,"s":-0.08},{"k":70,"e":3.75,"s":-0.06},{"k":72.5,"e":3.76,"s":-0.05},{"k":75,"e":3.76,"s":-0.05},{"k":77.5,"e":3.76,"s":-0.05},{"k":80,"e":3.75,"s":-0.05},{"k":82.5,"e":3.72,"s":-0.05},{"k":85,"e":3.69,"s":-0.05},{"k":87.5,"e":3.65,"s":-0.08},{"k":90,"e":3.62,"s":-0.1},{"k":92.5,"e":3.59,"s":-0.12},{"k":95,"e":3.57,"s":-0.14},{"k":97.5,"e":3.55,"s":-0.15},{"k":100,"e":3.55,"s":-0.15},
{"k":0,"e":4.0,"s":-0.2},{"k":2.5,"e":4.0,"s":-0.18},{"k":5,"e":3.99,"s":-0.14},{"k":7.5,"e":3.97,"s":-0.1},{"k":10,"e":3.95,"s":-0.07},{"k":12.5,"e":3.93,"s":-0.05},{"k":15,"e":3.92,"s":-0.04},{"k":17.5,"e":3.91,"s":-0.04},{"k":20,"e":3.9,"s":-0.04},{"k":22.5,"e":3.89,"s":-0.04},{"k":25,"e":3.88,"s":-0.04},{"k":27.5,"e":3.87,"s":-0.04},{"k":30,"e":3.86,"s":-0.04},{"k":32.5,"e":3.85,"s":-0.04},{"k":35,"e":3.84,"s":-0.04},{"k":37.5,"e":3.84,"s":-0.04},{"k":40,"e":3.84,"s":-0.04},{"k":42.5,"e":3.85,"s":-0.04},{"k":45,"e":3.86,"s":-0.04},{"k":47.5,"e":3.87,"s":-0.04},{"k":50,"e":3.88,"s":-0.04},{"k":52.5,"e":3.89,"s":-0.04},{"k":55,"e":3.9,"s":-0.04},{"k":57.5,"e":3.91,"s":-0.04},{"k":60,"e":3.92,"s":-0.04},{"k":62.5,"e":3.93,"s":-0.04},{"k":65,"e":3.94,"s":-0.04},{"k":67.5,"e":3.95,"s":-0.04},{"k":70,"e":3.96,"s":-0.04},{"k":72.5,"e":3.97,"s":-0.04},{"k":75,"e":3.97,"s":-0.04},{"k":77.5,"e":3.98,"s":-0.04},{"k":80,"e":3.98,"s":-0.04},{"k":82.5,"e":3.99,"s":-0.05},{"k":85,"e":3.99,"s":-0.07},{"k":87.5,"e":4.0,"s":-0.09},{"k":90,"e":4.0,"s":-0.11},{"k":92.5,"e":4.0,"s":-0.13},{"k":95,"e":4.0,"s":-0.15},{"k":97.5,"e":4.0,"s":-0.18},{"k":100,"e":4.0,"s":-0.2},
{"k":0,"e":4.87,"s":-0.03},{"k":5,"e":4.87,"s":-0.03},{"k":10,"e":4.87,"s":-0.03},{"k":15,"e":4.87,"s":-0.03},{"k":20,"e":4.86,"s":-0.03},{"k":25,"e":4.86,"s":-0.03},{"k":30,"e":4.86,"s":-0.03},{"k":35,"e":4.86,"s":-0.03},{"k":40,"e":4.86,"s":-0.03},{"k":45,"e":4.87,"s":-0.03},{"k":50,"e":4.88,"s":-0.03},{"k":55,"e":4.89,"s":-0.03},{"k":60,"e":4.9,"s":-0.03},{"k":65,"e":4.91,"s":-0.03},{"k":70,"e":4.92,"s":-0.03},{"k":75,"e":4.92,"s":-0.03},{"k":80,"e":4.92,"s":-0.03},{"k":85,"e":4.91,"s":-0.03},{"k":90,"e":4.9,"s":-0.03},{"k":95,"e":4.89,"s":-0.03},{"k":100,"e":4.88,"s":-0.03}
],
"e":[
{"k":0,"e":2.32,"s":0.3},{"k":2.5,"e":2.31,"s":0.29},{"k":5,"e":2.3,"s":0.28},{"k":7.5,"e":2.28,"s":0.27},{"k":10,"e":2.25,"s":0.25},{"k":12.5,"e":2.21,"s":0.25},{"k":15,"e":2.16,"s":0.25},{"k":17.5,"e":2.1,"s":0.25},{"k":20,"e":2.03,"s":0.25},{"k":22.5,"e":1.97,"s":0.25},{"k":25,"e":1.91,"s":0.25},{"k":27.5,"e":1.85,"s":0.26},{"k":30,"e":1.79,"s":0.28},{"k":32.5,"e":1.74,"s":0.29},{"k":35,"e":1.7,"s":0.3},{"k":37.5,"e":1.69,"s":0.32},{"k":40,"e":1.69,"s":0.33},{"k":42.5,"e":1.7,"s":0.33},{"k":45,"e":1.71,"s":0.33},{"k":47.5,"e":1.73,"s":0.33},{"k":50,"e":1.75,"s":0.33},{"k":52.5,"e":1.77,"s":0.32},{"k":55,"e":1.8,"s":0.3},{"k":57.5,"e":1.83,"s":0.3},{"k":60,"e":1.86,"s":0.3},{"k":62.5,"e":1.89,"s":0.3},{"k":65,"e":1.92,"s":0.3},{"k":67.5,"e":1.96,"s":0.3},{"k":70,"e":2.0,"s":0.3},{"k":72.5,"e":2.04,"s":0.3},{"k":75,"e":2.08,"s":0.3},{"k":77.5,"e":2.12,"s":0.3},{"k":80,"e":2.15,"s":0.29},{"k":82.5,"e":2.18,"s":0.28},{"k":85,"e":2.21,"s":0.28},{"k":87.5,"e":2.24,"s":0.28},{"k":90,"e":2.26,"s":0.28},{"k":92.5,"e":2.28,"s":0.28},{"k":95,"e":2.3,"s":0.28},{"k":97.5,"e":2.31,"s":0.29},{"k":100,"e":2.32,"s":0.3},
{"k":0,"e":1.8,"s":0.13},{"k":2.5,"e":1.8,"s":0.13},{"k":5,"e":1.8,"s":0.12},{"k":7.5,"e":1.8,"s":0.12},{"k":10,"e":1.79,"s":0.11},{"k":12.5,"e":1.79,"s":0.11},{"k":15,"e":1.78,"s":0.1},{"k":17.5,"e":1.78,"s":0.1},{"k":20,"e":1.77,"s":0.1},{"k":22.5,"e":1.76,"s":0.1},{"k":25,"e":1.75,"s":0.1},{"k":27.5,"e":1.74,"s":0.1},{"k":30,"e":1.72,"s":0.1},{"k":32.5,"e":1.7,"s":0.1},{"k":35,"e":1.69,"s":0.1},{"k":37.5,"e":1.68,"s":0.1},{"k":40,"e":1.7,"s":0.06},{"k":42.5,"e":1.74,"s":0.05},{"k":45,"e":1.78,"s":0.05},{"k":47.5,"e":1.82,"s":0.05},{"k":50,"e":1.86,"s":0.05},{"k":52.5,"e":1.9,"s":0.05},{"k":55,"e":1.94,"s":0.05},{"k":57.5,"e":1.97,"s":0.05},{"k":60,"e":2.0,"s":0.05},{"k":62.5,"e":2.03,"s":0.05},{"k":65,"e":2.06,"s":0.05},{"k":67.5,"e":2.08,"s":0.05},{"k":70,"e":2.11,"s":0.05},{"k":72.5,"e":2.12,"s":0.05},{"k":75,"e":2.13,"s":0.05},{"k":77.5,"e":2.12,"s":0.06},{"k":80,"e":2.0,"s":0.12},{"k":82.5,"e":1.97,"s":0.13},{"k":85,"e":1.94,"s":0.14},{"k":87.5,"e":1.91,"s":0.15},{"k":90,"e":1.88,"s":0.15},{"k":92.5,"e":1.86,"s":0.15},{"k":95,"e":1.83,"s":0.15},{"k":97.5,"e":1.81,"s":0.15},{"k":100,"e":1.8,"s":0.15},
{"k":0,"e":-0.25,"s":0.1},{"k":2.5,"e":-0.25,"s":0.1},{"k":5,"e":-0.26,"s":0.09},{"k":7.5,"e":-0.27,"s":0.09},{"k":10,"e":-0.29,"s":0.08},{"k":12.5,"e":-0.31,"s":0.08},{"k":15,"e":-0.33,"s":0.07},{"k":17.5,"e":-0.35,"s":0.07},{"k":20,"e":-0.38,"s":0.06},{"k":22.5,"e":-0.4,"s":0.06},{"k":25,"e":-0.43,"s":0.06},{"k":27.5,"e":-0.45,"s":0.07},{"k":30,"e":-0.48,"s":0.07},{"k":32.5,"e":-0.5,"s":0.08},{"k":35,"e":-0.52,"s":0.08},{"k":37.5,"e":-0.53,"s":0.08},{"k":40,"e":-0.52,"s":0.07},{"k":42.5,"e":-0.5,"s":0.06},{"k":45,"e":-0.48,"s":0.06},{"k":47.5,"e":-0.46,"s":0.05},{"k":50,"e":-0.44,"s":0.05},{"k":52.5,"e":-0.42,"s":0.04},{"k":55,"e":-0.4,"s":0.04},{"k":57.5,"e":-0.38,"s":0.04},{"k":60,"e":-0.36,"s":0.04},{"k":62.5,"e":-0.34,"s":0.04},{"k":65,"e":-0.33,"s":0.04},{"k":67.5,"e":-0.32,"s":0.04},{"k":70,"e":-0.3,"s":0.04},{"k":72.5,"e":-0.3,"s":0.04},{"k":75,"e":-0.29,"s":0.04},{"k":77.5,"e":-0.29,"s":0.04},{"k":80,"e":-0.29,"s":0.04},{"k":82.5,"e":-0.28,"s":0.05},{"k":85,"e":-0.28,"s":0.06},{"k":87.5,"e":-0.27,"s":0.07},{"k":90,"e":-0.27,"s":0.08},{"k":92.5,"e":-0.26,"s":0.09},{"k":95,"e":-0.26,"s":0.1},{"k":97.5,"e":-0.25,"s":0.1},{"k":100,"e":-0.25,"s":0.1},
{"k":0,"e":-1.5,"s":0.03},{"k":5,"e":-1.5,"s":0.03},{"k":10,"e":-1.49,"s":0.03},{"k":15,"e":-1.48,"s":0.03},{"k":20,"e":-1.47,"s":0.03},{"k":25,"e":-1.46,"s":0.03},{"k":30,"e":-1.45,"s":0.03},{"k":35,"e":-1.44,"s":0.03},{"k":40,"e":-1.44,"s":0.03},{"k":45,"e":-1.45,"s":0.03},{"k":50,"e":-1.47,"s":0.03},{"k":55,"e":-1.5,"s":0.03},{"k":60,"e":-1.53,"s":0.03},{"k":65,"e":-1.56,"s":0.03},{"k":70,"e":-1.6,"s":0.03},{"k":75,"e":-1.63,"s":0.03},{"k":80,"e":-1.65,"s":0.03},{"k":85,"e":-1.6,"s":0.03},{"k":90,"e":-1.55,"s":0.03},{"k":95,"e":-1.52,"s":0.03},{"k":100,"e":-1.5,"s":0.03},
{"k":0,"e":3.6,"s":-0.13},{"k":2.5,"e":3.6,"s":-0.12},{"k":5,"e":3.6,"s":-0.1},{"k":7.5,"e":3.6,"s":-0.08},{"k":10,"e":3.6,"s":-0.06},{"k":12.5,"e":3.6,"s":-0.05},{"k":15,"e":3.6,"s":-0.05},{"k":17.5,"e":3.6,"s":-0.05},{"k":20,"e":3.6,"s":-0.05},{"k":22.5,"e":3.6,"s":-0.05},{"k":25,"e":3.6,"s":-0.06},{"k":27.5,"e":3.6,"s":-0.07},{"k":30,"e":3.6,"s":-0.08},{"k":32.5,"e":3.6,"s":-0.1},{"k":35,"e":3.6,"s":-0.12},{"k":37.5,"e":3.6,"s":-0.12},{"k":40,"e":3.6,"s":-0.11},{"k":42.5,"e":3.59,"s":-0.09},{"k":45,"e":3.58,"s":-0.06},{"k":47.5,"e":3.57,"s":-0.05},{"k":50,"e":3.56,"s":-0.04},{"k":52.5,"e":3.55,"s":-0.03},{"k":55,"e":3.54,"s":-0.03},{"k":57.5,"e":3.53,"s":-0.03},{"k":60,"e":3.51,"s":-0.03},{"k":62.5,"e":3.5,"s":-0.03},{"k":65,"e":3.49,"s":-0.03},{"k":67.5,"e":3.48,"s":-0.03},{"k":70,"e":3.47,"s":-0.03},{"k":72.5,"e":3.46,"s":-0.03},{"k":75,"e":3.45,"s":-0.03},{"k":77.5,"e":3.45,"s":-0.03},{"k":80,"e":3.45,"s":-0.03},{"k":82.5,"e":3.47,"s":-0.03},{"k":85,"e":3.5,"s":-0.03},{"k":87.5,"e":3.52,"s":-0.05},{"k":90,"e":3.54,"s":-0.06},{"k":92.5,"e":3.56,"s":-0.08},{"k":95,"e":3.58,"s":-0.1},{"k":97.5,"e":3.6,"s":-0.12},{"k":100,"e":3.6,"s":-0.13},
{"k":5,"e":4.4,"s":-0.05},{"k":7.5,"e":4.43,"s":-0.07},{"k":10,"e":4.47,"s":-0.1},{"k":12.5,"e":4.52,"s":-0.12},{"k":15,"e":4.57,"s":-0.13},{"k":17.5,"e":4.62,"s":-0.13},{"k":20,"e":4.67,"s":-0.14},{"k":22.5,"e":4.72,"s":-0.15},{"k":25,"e":4.76,"s":-0.15},{"k":27.5,"e":4.79,"s":-0.14},{"k":30,"e":4.81,"s":-0.13},{"k":32.5,"e":4.83,"s":-0.12},{"k":35,"e":4.84,"s":-0.12},{"k":37.5,"e":4.84,"s":-0.12},{"k":40,"e":4.84,"s":-0.1},{"k":42.5,"e":4.83,"s":-0.09},{"k":45,"e":4.81,"s":-0.08},{"k":47.5,"e":4.79,"s":-0.07},{"k":50,"e":4.76,"s":-0.07},{"k":52.5,"e":4.73,"s":-0.07},{"k":55,"e":4.7,"s":-0.08},{"k":57.5,"e":4.66,"s":-0.08},{"k":60,"e":4.62,"s":-0.09},{"k":62.5,"e":4.58,"s":-0.09},{"k":65,"e":4.54,"s":-0.08},{"k":67.5,"e":4.5,"s":-0.06},
{"k":0,"e":3.2,"s":-0.04},{"k":2.5,"e":3.19,"s":-0.04},{"k":5,"e":3.17,"s":-0.04},{"k":7.5,"e":3.14,"s":-0.04},{"k":10,"e":3.1,"s":-0.04},{"k":12.5,"e":3.06,"s":-0.04},{"k":15,"e":3.02,"s":-0.04},{"k":17.5,"e":2.98,"s":-0.04},{"k":20,"e":2.94,"s":-0.04},{"k":22.5,"e":2.9,"s":-0.06},{"k":25,"e":2.85,"s":-0.07},{"k":27.5,"e":2.8,"s":-0.08},{"k":30,"e":2.75,"s":-0.08},{"k":32.5,"e":2.69,"s":-0.08},{"k":35,"e":2.64,"s":-0.08},{"k":37.5,"e":2.62,"s":-0.08},{"k":40,"e":2.63,"s":-0.06},{"k":42.5,"e":2.66,"s":-0.05},{"k":45,"e":2.7,"s":-0.05},{"k":47.5,"e":2.76,"s":-0.06},{"k":50,"e":2.83,"s":-0.07},{"k":52.5,"e":2.95,"s":-0.09},{"k":55,"e":3.1,"s":-0.11},{"k":57.5,"e":3.2,"s":-0.14},{"k":60,"e":3.26,"s":-0.16},{"k":62.5,"e":3.29,"s":-0.17},{"k":65,"e":3.31,"s":-0.16},{"k":67.5,"e":3.3,"s":-0.14},{"k":70,"e":3.24,"s":-0.11},{"k":72.5,"e":3.16,"s":-0.09},{"k":75,"e":3.08,"s":-0.08},{"k":77.5,"e":3.0,"s":-0.09},{"k":80,"e":2.97,"s":-0.1},{"k":82.5,"e":2.98,"s":-0.08},{"k":85,"e":3.0,"s":-0.05},{"k":87.5,"e":3.02,"s":-0.05},{"k":90,"e":3.04,"s":-0.05},{"k":92.5,"e":3.06,"s":-0.05},{"k":95,"e":3.08,"s":-0.05},{"k":97.5,"e":3.09,"s":-0.05},{"k":100,"e":3.1,"s":-0.05},
{"k":0,"e":4.9,"s":-0.05},{"k":5,"e":4.9,"s":-0.05},{"k":10,"e":4.9,"s":-0.05},{"k":15,"e":4.9,"s":-0.05},{"k":20,"e":4.9,"s":-0.05},{"k":25,"e":4.9,"s":-0.05},{"k":30,"e":4.9,"s":-0.05},{"k":35,"e":4.9,"s":-0.05},{"k":40,"e":4.9,"s":-0.05},{"k":45,"e":4.91,"s":-0.05},{"k":50,"e":4.92,"s":-0.05},{"k":55,"e":4.93,"s":-0.05},{"k":60,"e":4.94,"s":-0.05},{"k":65,"e":4.95,"s":-0.05},{"k":70,"e":4.95,"s":-0.05},{"k":75,"e":4.95,"s":-0.05},{"k":80,"e":4.95,"s":-0.07},{"k":85,"e":4.94,"s":-0.07},{"k":90,"e":4.93,"s":-0.07},{"k":95,"e":4.92,"s":-0.07},{"k":100,"e":4.91,"s":-0.07}
]
},
"vconcat":[
{"hconcat":[
{"title":{"text":"(a)","anchor":"start","frame":"group","fontSize":17,"fontWeight":"normal","dx":-41,"dy":27,"offset":0,"color":"black"},
"width":339,"height":169,
"layer":[
{"data":{"name":"a"},"mark":{"type":"circle","size":80,"clip":true,"opacity":0.8},
"encoding":{
"x":{"field":"k","type":"quantitative","scale":{"domain":[0,100],"nice":false,"zero":false},"axis":{"values":[0,36.5,79,100],"labelExpr":"datum.value<1||datum.value>99?'M':datum.value<50?'Γ':'K'","title":null,"grid":true,"labelFlush":false}},
"y":{"field":"e","type":"quantitative","scale":{"domain":[-2,5],"nice":false,"zero":false},"axis":{"values":[-2,0,2,4],"title":"Energy (eV)","grid":true}},
"color":{"field":"s","type":"quantitative","scale":{"domain":[-0.33,0,0.33],"range":["#0000ff","#ffffff","#ff0000"],"interpolate":"rgb"},
"legend":{"type":"gradient","title":"spin projection","titleOrient":"right","titleAnchor":"middle","titleFontSize":13,"titleFontWeight":"normal","titlePadding":2,"orient":"right","offset":25,"padding":6,"direction":"vertical","gradientLength":153,"gradientThickness":14,"gradientStrokeColor":"black","gradientStrokeWidth":0.8,"values":[-0.3,-0.2,-0.1,0,0.1,0.2,0.3],"format":".1f","labelFontSize":11,"labelOffset":6,"labelOverlap":false,"encode":{"title":{"update":{"angle":{"value":90},"align":{"value":"center"},"baseline":{"value":"bottom"}}}}}}}},
{"data":{"values":[{"g":"Spin up"},{"g":"Spin down"}]},"mark":{"type":"point","filled":true,"opacity":0,"size":40},
"encoding":{"fill":{"field":"g","type":"nominal","scale":{"domain":["Spin up","Spin down"],"range":["#ff0000","#0000ff"]},
"legend":{"title":null,"orient":"top-right","offset":6,"padding":5,"fillColor":"rgba(255,255,255,0.85)","strokeColor":"#cccccc","cornerRadius":3,"symbolSize":40,"symbolType":"circle","symbolOpacity":1,"symbolStrokeWidth":0,"labelFontSize":12,"labelOffset":14,"symbolOffset":8,"rowPadding":4}}}}
]},
{"title":{"text":"(b)","anchor":"start","frame":"group","fontSize":17,"fontWeight":"normal","dx":-41,"dy":27,"offset":0,"color":"black"},
"width":339,"height":169,
"layer":[
{"data":{"name":"b"},"mark":{"type":"circle","size":80,"clip":true,"opacity":0.8},
"encoding":{
"x":{"field":"k","type":"quantitative","scale":{"domain":[0,100],"nice":false,"zero":false},"axis":{"values":[0,36.5,79,100],"labelExpr":"datum.value<1||datum.value>99?'M':datum.value<50?'Γ':'K'","title":null,"grid":true,"labelFlush":false}},
"y":{"field":"e","type":"quantitative","scale":{"domain":[-2,5],"nice":false,"zero":false},"axis":{"values":[-2,0,2,4],"title":"Energy (eV)","grid":true}},
"color":{"field":"s","type":"quantitative","scale":{"domain":[-0.38,0,0.38],"range":["#0000ff","#ffffff","#ff0000"],"interpolate":"rgb"},
"legend":{"type":"gradient","title":"spin projection","titleOrient":"right","titleAnchor":"middle","titleFontSize":13,"titleFontWeight":"normal","titlePadding":2,"orient":"right","offset":25,"padding":6,"direction":"vertical","gradientLength":153,"gradientThickness":14,"gradientStrokeColor":"black","gradientStrokeWidth":0.8,"values":[-0.2,0,0.2],"format":".1f","labelFontSize":11,"labelOffset":6,"labelOverlap":false,"encode":{"title":{"update":{"angle":{"value":90},"align":{"value":"center"},"baseline":{"value":"bottom"}}}}}}}},
{"data":{"values":[{"g":"Spin up"},{"g":"Spin down"}]},"mark":{"type":"point","filled":true,"opacity":0,"size":40},
"encoding":{"fill":{"field":"g","type":"nominal","scale":{"domain":["Spin up","Spin down"],"range":["#ff0000","#0000ff"]},
"legend":{"title":null,"orient":"top-right","offset":6,"padding":5,"fillColor":"rgba(255,255,255,0.85)","strokeColor":"#cccccc","cornerRadius":3,"symbolSize":40,"symbolType":"circle","symbolOpacity":1,"symbolStrokeWidth":0,"labelFontSize":12,"labelOffset":14,"symbolOffset":8,"rowPadding":4}}}}
]}
],"spacing":0,"resolve":{"scale":{"color":"independent","fill":"independent"}}},
{"hconcat":[
{"title":{"text":"(c)","anchor":"start","frame":"group","fontSize":17,"fontWeight":"normal","dx":-41,"dy":27,"offset":0,"color":"black"},
"width":339,"height":169,
"layer":[
{"data":{"name":"c"},"mark":{"type":"circle","size":80,"clip":true,"opacity":0.8},
"encoding":{
"x":{"field":"k","type":"quantitative","scale":{"domain":[0,100],"nice":false,"zero":false},"axis":{"values":[0,36.5,79,100],"labelExpr":"datum.value<1||datum.value>99?'M':datum.value<50?'Γ':'K'","title":null,"grid":true,"labelFlush":false}},
"y":{"field":"e","type":"quantitative","scale":{"domain":[-2,5],"nice":false,"zero":false},"axis":{"values":[-2,0,2,4],"title":"Energy (eV)","grid":true}},
"color":{"field":"s","type":"quantitative","scale":{"domain":[-0.47,0,0.47],"range":["#0000ff","#ffffff","#ff0000"],"interpolate":"rgb"},
"legend":{"type":"gradient","title":"spin projection","titleOrient":"right","titleAnchor":"middle","titleFontSize":13,"titleFontWeight":"normal","titlePadding":2,"orient":"right","offset":25,"padding":6,"direction":"vertical","gradientLength":153,"gradientThickness":14,"gradientStrokeColor":"black","gradientStrokeWidth":0.8,"values":[-0.4,-0.2,0,0.2,0.4],"format":".1f","labelFontSize":11,"labelOffset":6,"labelOverlap":false,"encode":{"title":{"update":{"angle":{"value":90},"align":{"value":"center"},"baseline":{"value":"bottom"}}}}}}}},
{"data":{"values":[{"g":"Spin up"},{"g":"Spin down"}]},"mark":{"type":"point","filled":true,"opacity":0,"size":40},
"encoding":{"fill":{"field":"g","type":"nominal","scale":{"domain":["Spin up","Spin down"],"range":["#ff0000","#0000ff"]},
"legend":{"title":null,"orient":"top-right","offset":6,"padding":5,"fillColor":"rgba(255,255,255,0.85)","strokeColor":"#cccccc","cornerRadius":3,"symbolSize":40,"symbolType":"circle","symbolOpacity":1,"symbolStrokeWidth":0,"labelFontSize":12,"labelOffset":14,"symbolOffset":8,"rowPadding":4}}}}
]},
{"title":{"text":"(d)","anchor":"start","frame":"group","fontSize":17,"fontWeight":"normal","dx":-41,"dy":27,"offset":0,"color":"black"},
"width":339,"height":169,
"layer":[
{"data":{"name":"d"},"mark":{"type":"circle","size":80,"clip":true,"opacity":0.8},
"encoding":{
"x":{"field":"k","type":"quantitative","scale":{"domain":[0,100],"nice":false,"zero":false},"axis":{"values":[0,36.5,79,100],"labelExpr":"datum.value<1||datum.value>99?'M':datum.value<50?'Γ':'K'","title":null,"grid":true,"labelFlush":false}},
"y":{"field":"e","type":"quantitative","scale":{"domain":[-2,5],"nice":false,"zero":false},"axis":{"values":[-2,0,2,4],"title":"Energy (eV)","grid":true}},
"color":{"field":"s","type":"quantitative","scale":{"domain":[-0.295,0,0.295],"range":["#0000ff","#ffffff","#ff0000"],"interpolate":"rgb"},
"legend":{"type":"gradient","title":"spin projection","titleOrient":"right","titleAnchor":"middle","titleFontSize":13,"titleFontWeight":"normal","titlePadding":2,"orient":"right","offset":25,"padding":6,"direction":"vertical","gradientLength":153,"gradientThickness":14,"gradientStrokeColor":"black","gradientStrokeWidth":0.8,"values":[-0.2,-0.1,0,0.1,0.2],"format":".1f","labelFontSize":11,"labelOffset":6,"labelOverlap":false,"encode":{"title":{"update":{"angle":{"value":90},"align":{"value":"center"},"baseline":{"value":"bottom"}}}}}}}},
{"data":{"values":[{"g":"Spin up"},{"g":"Spin down"}]},"mark":{"type":"point","filled":true,"opacity":0,"size":40},
"encoding":{"fill":{"field":"g","type":"nominal","scale":{"domain":["Spin up","Spin down"],"range":["#ff0000","#0000ff"]},
"legend":{"title":null,"orient":"top-right","offset":6,"padding":5,"fillColor":"rgba(255,255,255,0.85)","strokeColor":"#cccccc","cornerRadius":3,"symbolSize":40,"symbolType":"circle","symbolOpacity":1,"symbolStrokeWidth":0,"labelFontSize":12,"labelOffset":14,"symbolOffset":8,"rowPadding":4}}}}
]}
],"spacing":0,"resolve":{"scale":{"color":"independent","fill":"independent"}}},
{"title":{"text":"(e)","anchor":"start","frame":"group","fontSize":17,"fontWeight":"normal","dx":-41,"dy":27,"offset":0,"color":"black"},
"width":339,"height":169,
"layer":[
{"data":{"name":"e"},"mark":{"type":"circle","size":80,"clip":true,"opacity":0.8},
"encoding":{
"x":{"field":"k","type":"quantitative","scale":{"domain":[0,100],"nice":false,"zero":false},"axis":{"values":[0,36.5,79,100],"labelExpr":"datum.value<1||datum.value>99?'M':datum.value<50?'Γ':'K'","title":null,"grid":true,"labelFlush":false}},
"y":{"field":"e","type":"quantitative","scale":{"domain":[-2,5],"nice":false,"zero":false},"axis":{"values":[-2,0,2,4],"title":"Energy (eV)","grid":true}},
"color":{"field":"s","type":"quantitative","scale":{"domain":[-0.33,0,0.33],"range":["#0000ff","#ffffff","#ff0000"],"interpolate":"rgb"},
"legend":{"type":"gradient","title":"spin projection","titleOrient":"right","titleAnchor":"middle","titleFontSize":13,"titleFontWeight":"normal","titlePadding":2,"orient":"right","offset":25,"padding":6,"direction":"vertical","gradientLength":153,"gradientThickness":14,"gradientStrokeColor":"black","gradientStrokeWidth":0.8,"values":[-0.3,-0.2,-0.1,0,0.1,0.2,0.3],"format":".1f","labelFontSize":11,"labelOffset":6,"labelOverlap":false,"encode":{"title":{"update":{"angle":{"value":90},"align":{"value":"center"},"baseline":{"value":"bottom"}}}}}}}},
{"data":{"values":[{"g":"Spin up"},{"g":"Spin down"}]},"mark":{"type":"point","filled":true,"opacity":0,"size":40},
"encoding":{"fill":{"field":"g","type":"nominal","scale":{"domain":["Spin up","Spin down"],"range":["#ff0000","#0000ff"]},
"legend":{"title":null,"orient":"top-right","offset":6,"padding":5,"fillColor":"rgba(255,255,255,0.85)","strokeColor":"#cccccc","cornerRadius":3,"symbolSize":40,"symbolType":"circle","symbolOpacity":1,"symbolStrokeWidth":0,"labelFontSize":12,"labelOffset":14,"symbolOffset":8,"rowPadding":4}}}}
]}
],
"spacing":13,"center":true,
"resolve":{"scale":{"color":"independent","fill":"independent"}}
}
